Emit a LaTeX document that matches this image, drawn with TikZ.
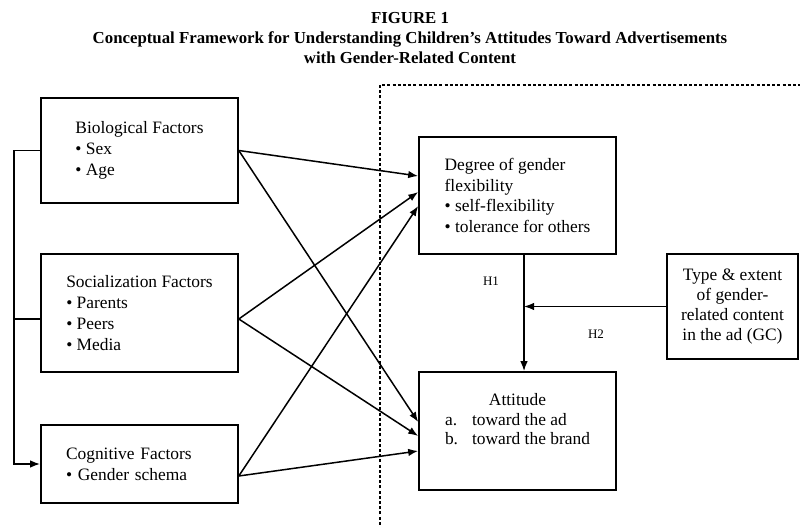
\documentclass[tikz,border=0pt]{standalone}
\usepackage{fontspec}
\setmainfont{Liberation Serif}
\usepackage{tikz}
\usetikzlibrary{positioning,arrows.meta}

\tikzset{
  factor/.style={draw, line width=1.6pt, rectangle, minimum width=197pt, align=left,
    inner sep=0pt, font=\fontsize{17.4}{21.3}\selectfont},
  link/.style={-{Latex[length=10pt,width=7.5pt]}, line width=1.5pt},
  hyp/.style={font=\fontsize{13}{15}\selectfont},
  frame/.style={line width=1.2pt, dash pattern=on 3pt off 2.2pt}
}

\begin{document}
\begin{tikzpicture}[x=1pt,y=-1pt]
		\useasboundingbox (0,0) rectangle (800,526);
		
		% title
		\node [align=center, font=\bfseries\fontsize{16.8}{20}\selectfont] (title) at (410,38)
		{FIGURE 1\\ Conceptual Framework for Understanding Children's Attitudes Toward Advertisements\\ with Gender-Related Content};
		
		% dashed frame
		\draw [frame] (380,530) -- (380,85) -- (805,85);
		
		% left hand factors
		\node [factor, minimum height=105pt] (bio) at (139.5,150.5)
		{Biological Factors\\ \textbullet\ Sex\\ \textbullet\ Age};
		\node [factor, minimum height=118pt] (soc) at (139.5,313)
		{Socialization Factors\\ \textbullet\ Parents\\ \textbullet\ Peers\\ \textbullet\ Media};
		\node [factor, minimum height=78pt, text width=147pt, inner xsep=25pt] (cog) at (139.5,464)
		{Cognitive Factors\\ \textbullet\ Gender schema};
		
		% right hand side
		\node [factor, minimum height=117pt, font=\fontsize{17.4}{20.7}\selectfont] (deg) at (517.5,195.5)
		{Degree of gender\\ flexibility\\ \textbullet\ self-flexibility\\ \textbullet\ tolerance for others};
		\node [factor, minimum height=118pt] (att) at (517.5,431)
		{\def\arraystretch{0.92}\begin{tabular}{@{}l@{\hspace{14pt}}l@{}}
		\multicolumn{2}{c}{Attitude}\\ a. & toward the ad\\ b. & toward the brand\\ & \end{tabular}};
		\node [factor, minimum width=131pt, minimum height=105pt, align=center,
		font=\fontsize{17.4}{20}\selectfont] (gc) at (732.5,306.5)
		{Type \& extent\\ of gender-\\ related content\\ in the ad (GC)};
		
		% bracket on the left
		\draw [line width=1.5pt] (bio.west) -- ++(-26,0);
		\draw [line width=1.5pt] ([yshift=-6pt]soc.west) -- ++(-26,0);
		\draw [link] (bio.west) -- ++(-26,0) |- (cog.west);
		
		% factor arrows
		\draw [link] (bio.east) -- ([yshift=19.5pt]deg.west);
		\draw [link] (bio.east) -- ([yshift=9pt]att.west);
		\draw [link] ([yshift=-6pt]soc.east) -- ([yshift=3.5pt]deg.west);
		\draw [link] ([yshift=-6pt]soc.east) -- ([yshift=-5pt]att.west);
		\draw [link] ([yshift=-12pt]cog.east) -- ([yshift=-10.5pt]deg.west);
		\draw [link] ([yshift=-12pt]cog.east) -- ([yshift=-20pt]att.west);
		
		% hypotheses
		\coordinate (degout) at ([xshift=6.5pt]deg.south);
		\coordinate (attin) at ([xshift=6.5pt]att.north);
		\draw [link] (degout) -- (attin);
		\draw [link] (gc.west) -- (degout |- gc.west);
		\node [hyp] (h1) at (491,281) {H1};
		\node [hyp] (h2) at (596,334) {H2};
		
\end{tikzpicture}
\end{document}
